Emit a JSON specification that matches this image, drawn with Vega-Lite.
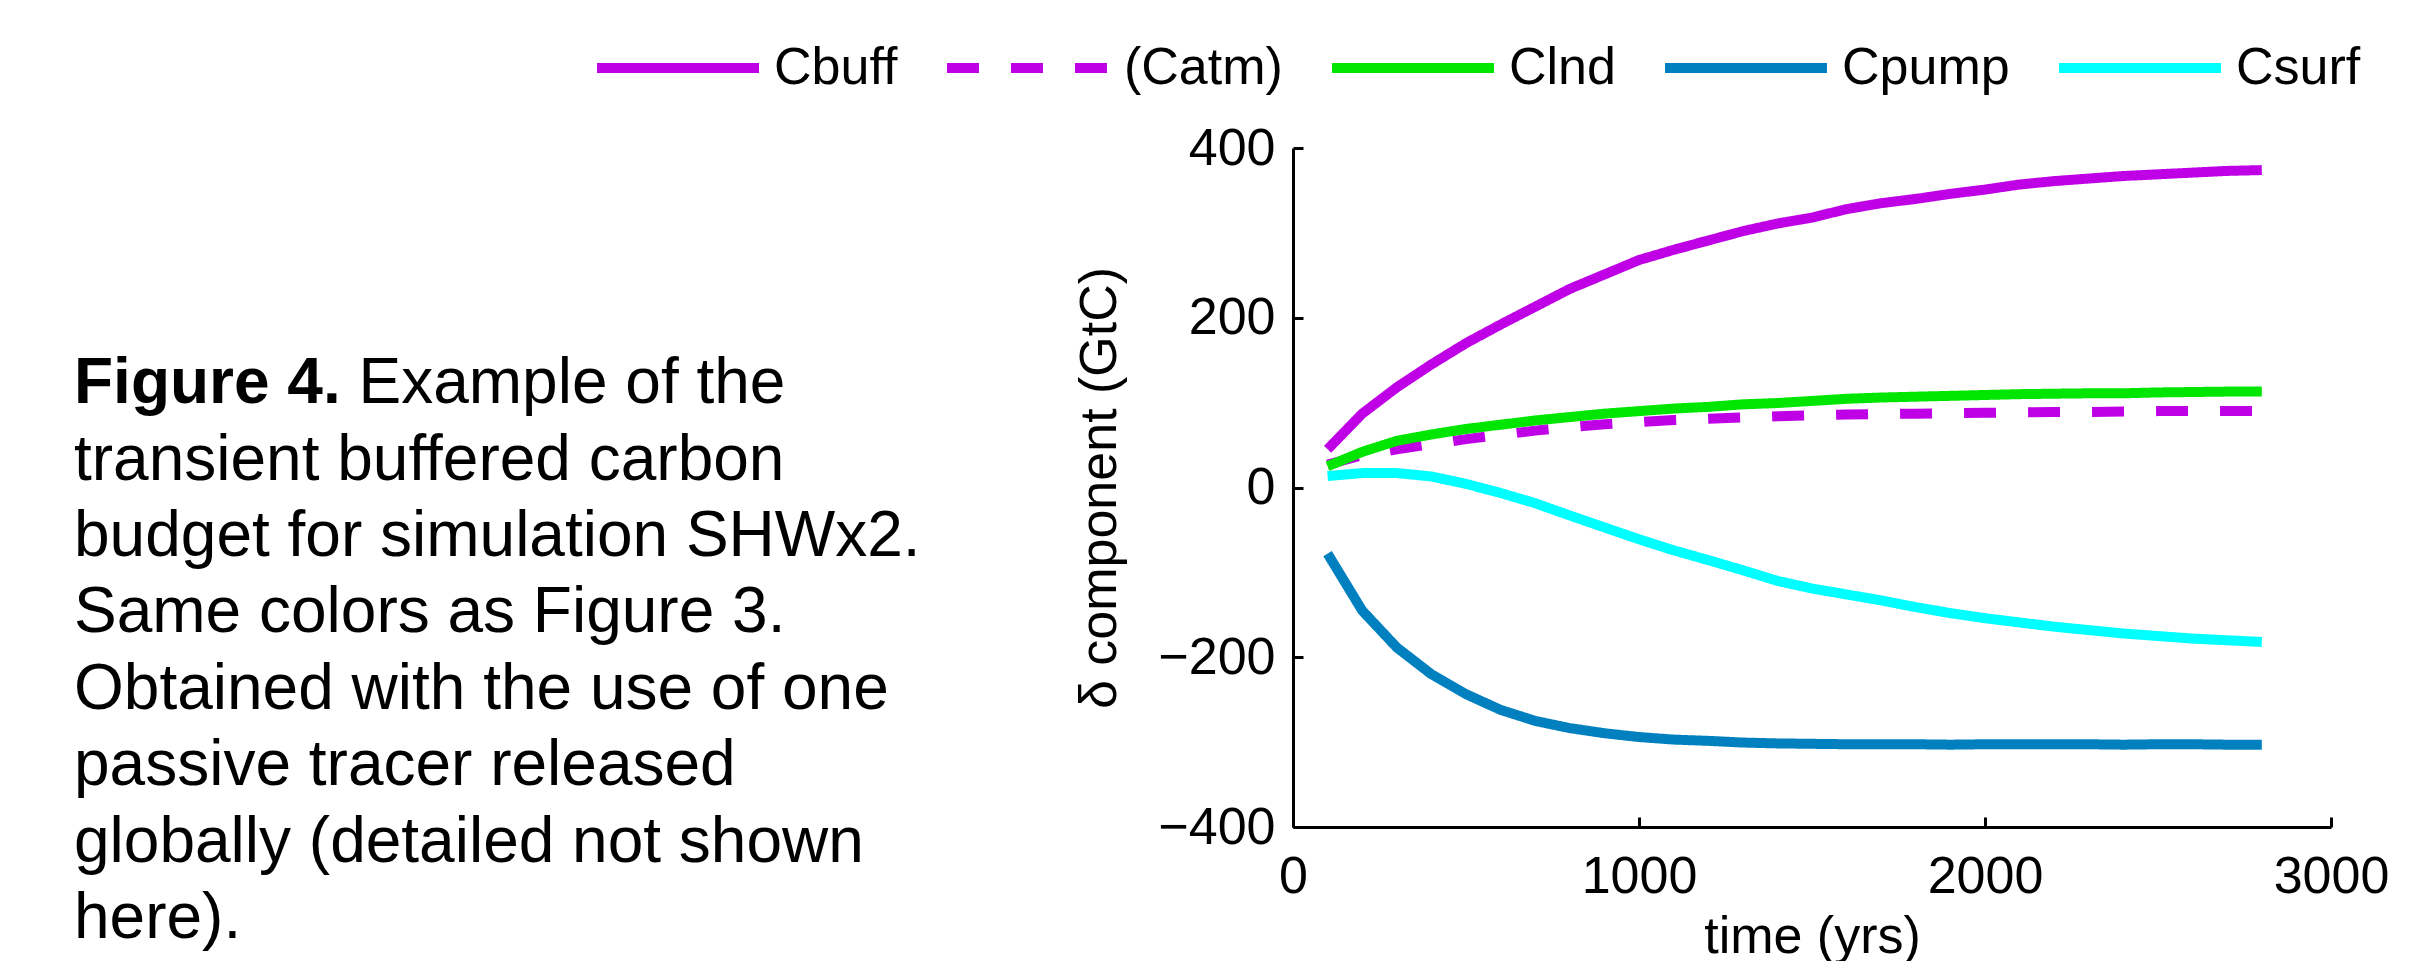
{
  "$schema": "https://vega.github.io/schema/vega-lite/v6.json",
  "width": 1038,
  "height": 679,
  "autosize": {"type": "none"},
  "padding": {"left": 1293, "top": 148, "right": 90, "bottom": 134},
  "background": "white",
  "title": {
    "text": "Figure 4.",
    "subtitle": ["\u200b\u00a0\u00a0\u00a0\u00a0\u00a0\u00a0\u00a0\u00a0\u00a0\u00a0\u00a0\u00a0\u00a0\u00a0\u00a0\u00a0Example of the", "transient buffered carbon", "budget for simulation SHWx2.", "Same colors as Figure 3.", "Obtained with the use of one", "passive tracer released", "globally (detailed not shown", "here)."],
    "orient": "top",
    "anchor": "start",
    "frame": "group",
    "align": "left",
    "dx": -1219,
    "dy": 913,
    "offset": 0,
    "font": "Liberation Sans",
    "fontSize": 64,
    "fontWeight": "bold",
    "color": "black",
    "subtitleFont": "Liberation Sans",
    "subtitleFontSize": 64,
    "subtitleFontWeight": "normal",
    "subtitleColor": "black",
    "subtitleLineHeight": 76.4,
    "subtitlePadding": -64
  },
  "data": {"values": [
    {"time":100,"series":"Cbuff","value":45},{"time":200,"series":"Cbuff","value":87},{"time":300,"series":"Cbuff","value":118},{"time":400,"series":"Cbuff","value":145},{"time":500,"series":"Cbuff","value":170},{"time":600,"series":"Cbuff","value":192},{"time":700,"series":"Cbuff","value":213},{"time":800,"series":"Cbuff","value":234},{"time":900,"series":"Cbuff","value":251},{"time":1000,"series":"Cbuff","value":268},{"time":1100,"series":"Cbuff","value":280},{"time":1200,"series":"Cbuff","value":291},{"time":1300,"series":"Cbuff","value":302},{"time":1400,"series":"Cbuff","value":311},{"time":1500,"series":"Cbuff","value":318},{"time":1600,"series":"Cbuff","value":328},{"time":1700,"series":"Cbuff","value":335},{"time":1800,"series":"Cbuff","value":340},{"time":1900,"series":"Cbuff","value":346},{"time":2000,"series":"Cbuff","value":351},{"time":2100,"series":"Cbuff","value":357},{"time":2200,"series":"Cbuff","value":361},{"time":2300,"series":"Cbuff","value":364},{"time":2400,"series":"Cbuff","value":367},{"time":2500,"series":"Cbuff","value":369},{"time":2600,"series":"Cbuff","value":371},{"time":2700,"series":"Cbuff","value":373},{"time":2800,"series":"Cbuff","value":374},
    {"time":100,"series":"(Catm)","value":27},{"time":200,"series":"(Catm)","value":38},{"time":300,"series":"(Catm)","value":45},{"time":400,"series":"(Catm)","value":51},{"time":500,"series":"(Catm)","value":57},{"time":600,"series":"(Catm)","value":62},{"time":700,"series":"(Catm)","value":67},{"time":800,"series":"(Catm)","value":71},{"time":900,"series":"(Catm)","value":74.5},{"time":1000,"series":"(Catm)","value":77},{"time":1100,"series":"(Catm)","value":79.5},{"time":1200,"series":"(Catm)","value":81},{"time":1300,"series":"(Catm)","value":82.5},{"time":1400,"series":"(Catm)","value":84},{"time":1500,"series":"(Catm)","value":85},{"time":1600,"series":"(Catm)","value":86},{"time":1700,"series":"(Catm)","value":86.5},{"time":1800,"series":"(Catm)","value":87},{"time":1900,"series":"(Catm)","value":87.5},{"time":2000,"series":"(Catm)","value":88},{"time":2100,"series":"(Catm)","value":88.5},{"time":2200,"series":"(Catm)","value":89},{"time":2300,"series":"(Catm)","value":89},{"time":2400,"series":"(Catm)","value":89.5},{"time":2500,"series":"(Catm)","value":90},{"time":2600,"series":"(Catm)","value":90},{"time":2700,"series":"(Catm)","value":90},{"time":2800,"series":"(Catm)","value":90},
    {"time":100,"series":"Clnd","value":25},{"time":200,"series":"Clnd","value":42},{"time":300,"series":"Clnd","value":55},{"time":400,"series":"Clnd","value":62.5},{"time":500,"series":"Clnd","value":69},{"time":600,"series":"Clnd","value":74},{"time":700,"series":"Clnd","value":79},{"time":800,"series":"Clnd","value":83},{"time":900,"series":"Clnd","value":87},{"time":1000,"series":"Clnd","value":90},{"time":1100,"series":"Clnd","value":93},{"time":1200,"series":"Clnd","value":95},{"time":1300,"series":"Clnd","value":98},{"time":1400,"series":"Clnd","value":99.5},{"time":1500,"series":"Clnd","value":102},{"time":1600,"series":"Clnd","value":104.5},{"time":1700,"series":"Clnd","value":106},{"time":1800,"series":"Clnd","value":107},{"time":1900,"series":"Clnd","value":108},{"time":2000,"series":"Clnd","value":109},{"time":2100,"series":"Clnd","value":110},{"time":2200,"series":"Clnd","value":110.5},{"time":2300,"series":"Clnd","value":111},{"time":2400,"series":"Clnd","value":111},{"time":2500,"series":"Clnd","value":112},{"time":2600,"series":"Clnd","value":112.5},{"time":2700,"series":"Clnd","value":113},{"time":2800,"series":"Clnd","value":113},
    {"time":100,"series":"Cpump","value":-78},{"time":200,"series":"Cpump","value":-145},{"time":300,"series":"Cpump","value":-188.5},{"time":400,"series":"Cpump","value":-220},{"time":500,"series":"Cpump","value":-243.5},{"time":600,"series":"Cpump","value":-262},{"time":700,"series":"Cpump","value":-275},{"time":800,"series":"Cpump","value":-283.5},{"time":900,"series":"Cpump","value":-289.5},{"time":1000,"series":"Cpump","value":-294},{"time":1100,"series":"Cpump","value":-297},{"time":1200,"series":"Cpump","value":-298.5},{"time":1300,"series":"Cpump","value":-300.5},{"time":1400,"series":"Cpump","value":-301.5},{"time":1500,"series":"Cpump","value":-302},{"time":1600,"series":"Cpump","value":-302.5},{"time":1700,"series":"Cpump","value":-302.5},{"time":1800,"series":"Cpump","value":-302.5},{"time":1900,"series":"Cpump","value":-303},{"time":2000,"series":"Cpump","value":-302.5},{"time":2100,"series":"Cpump","value":-302.5},{"time":2200,"series":"Cpump","value":-302.5},{"time":2300,"series":"Cpump","value":-302.5},{"time":2400,"series":"Cpump","value":-303},{"time":2500,"series":"Cpump","value":-302.5},{"time":2600,"series":"Cpump","value":-302.5},{"time":2700,"series":"Cpump","value":-303},{"time":2800,"series":"Cpump","value":-303},
    {"time":100,"series":"Csurf","value":13.5},{"time":200,"series":"Csurf","value":17},{"time":300,"series":"Csurf","value":17},{"time":400,"series":"Csurf","value":13},{"time":500,"series":"Csurf","value":4.3},{"time":600,"series":"Csurf","value":-6.5},{"time":700,"series":"Csurf","value":-18.5},{"time":800,"series":"Csurf","value":-33},{"time":900,"series":"Csurf","value":-47},{"time":1000,"series":"Csurf","value":-61},{"time":1100,"series":"Csurf","value":-74},{"time":1200,"series":"Csurf","value":-85.5},{"time":1300,"series":"Csurf","value":-97.5},{"time":1400,"series":"Csurf","value":-110},{"time":1500,"series":"Csurf","value":-119},{"time":1600,"series":"Csurf","value":-126},{"time":1700,"series":"Csurf","value":-133},{"time":1800,"series":"Csurf","value":-141},{"time":1900,"series":"Csurf","value":-148},{"time":2000,"series":"Csurf","value":-154},{"time":2100,"series":"Csurf","value":-159},{"time":2200,"series":"Csurf","value":-164},{"time":2300,"series":"Csurf","value":-168},{"time":2400,"series":"Csurf","value":-172},{"time":2500,"series":"Csurf","value":-175},{"time":2600,"series":"Csurf","value":-178},{"time":2700,"series":"Csurf","value":-180},{"time":2800,"series":"Csurf","value":-182}
  ]},
  "mark": {"type": "line", "strokeWidth": 10, "strokeCap": "butt", "strokeJoin": "miter"},
  "encoding": {
    "x": {
      "field": "time", "type": "quantitative",
      "scale": {"domain": [0, 3000], "nice": false, "zero": false},
      "axis": {"values": [0, 1000, 2000, 3000], "format": "d", "labelPadding": 34, "titlePadding": 9},
      "title": "time (yrs)"
    },
    "y": {
      "field": "value", "type": "quantitative",
      "scale": {"domain": [-400, 400], "nice": false, "zero": false},
      "axis": {"values": [-400, -200, 0, 200, 400], "format": "d", "labelPadding": 28, "titlePadding": 31},
      "title": "δ component (GtC)"
    },
    "color": {
      "field": "series", "type": "nominal",
      "scale": {"domain": ["Cbuff", "(Catm)", "Clnd", "Cpump", "Csurf"], "range": ["#bf00e6", "#bf00e6", "#00e600", "#0080bf", "#00ffff"]},
      "legend": {"title": null}
    },
    "strokeDash": {
      "field": "series", "type": "nominal",
      "scale": {"domain": ["Cbuff", "(Catm)", "Clnd", "Cpump", "Csurf"], "range": [[1, 0], [32, 32], [1, 0], [1, 0], [1, 0]]},
      "legend": {"title": null}
    }
  },
  "config": {
    "view": {"stroke": null},
    "font": "Liberation Sans",
    "axis": {
      "grid": false,
      "tickSize": -10,
      "tickWidth": 3,
      "tickColor": "black",
      "domainColor": "black",
      "domainWidth": 3,
      "labelFont": "Liberation Sans",
      "labelFontSize": 52,
      "labelColor": "black",
      "labelFlush": false,
      "labelOverlap": false,
      "labelBound": false,
      "titleFont": "Liberation Sans",
      "titleFontSize": 52,
      "titleFontWeight": "normal",
      "titleColor": "black"
    },
    "legend": {
      "orient": "none",
      "legendX": -701,
      "legendY": -110,
      "direction": "horizontal",
      "symbolType": "stroke",
      "symbolSize": 26244,
      "symbolStrokeWidth": 10,
      "clipHeight": 60,
      "labelFont": "Liberation Sans",
      "labelFontSize": 52,
      "labelColor": "black",
      "labelOffset": 10,
      "labelLimit": 0,
      "columnPadding": 44,
      "padding": 0
    }
  }
}
